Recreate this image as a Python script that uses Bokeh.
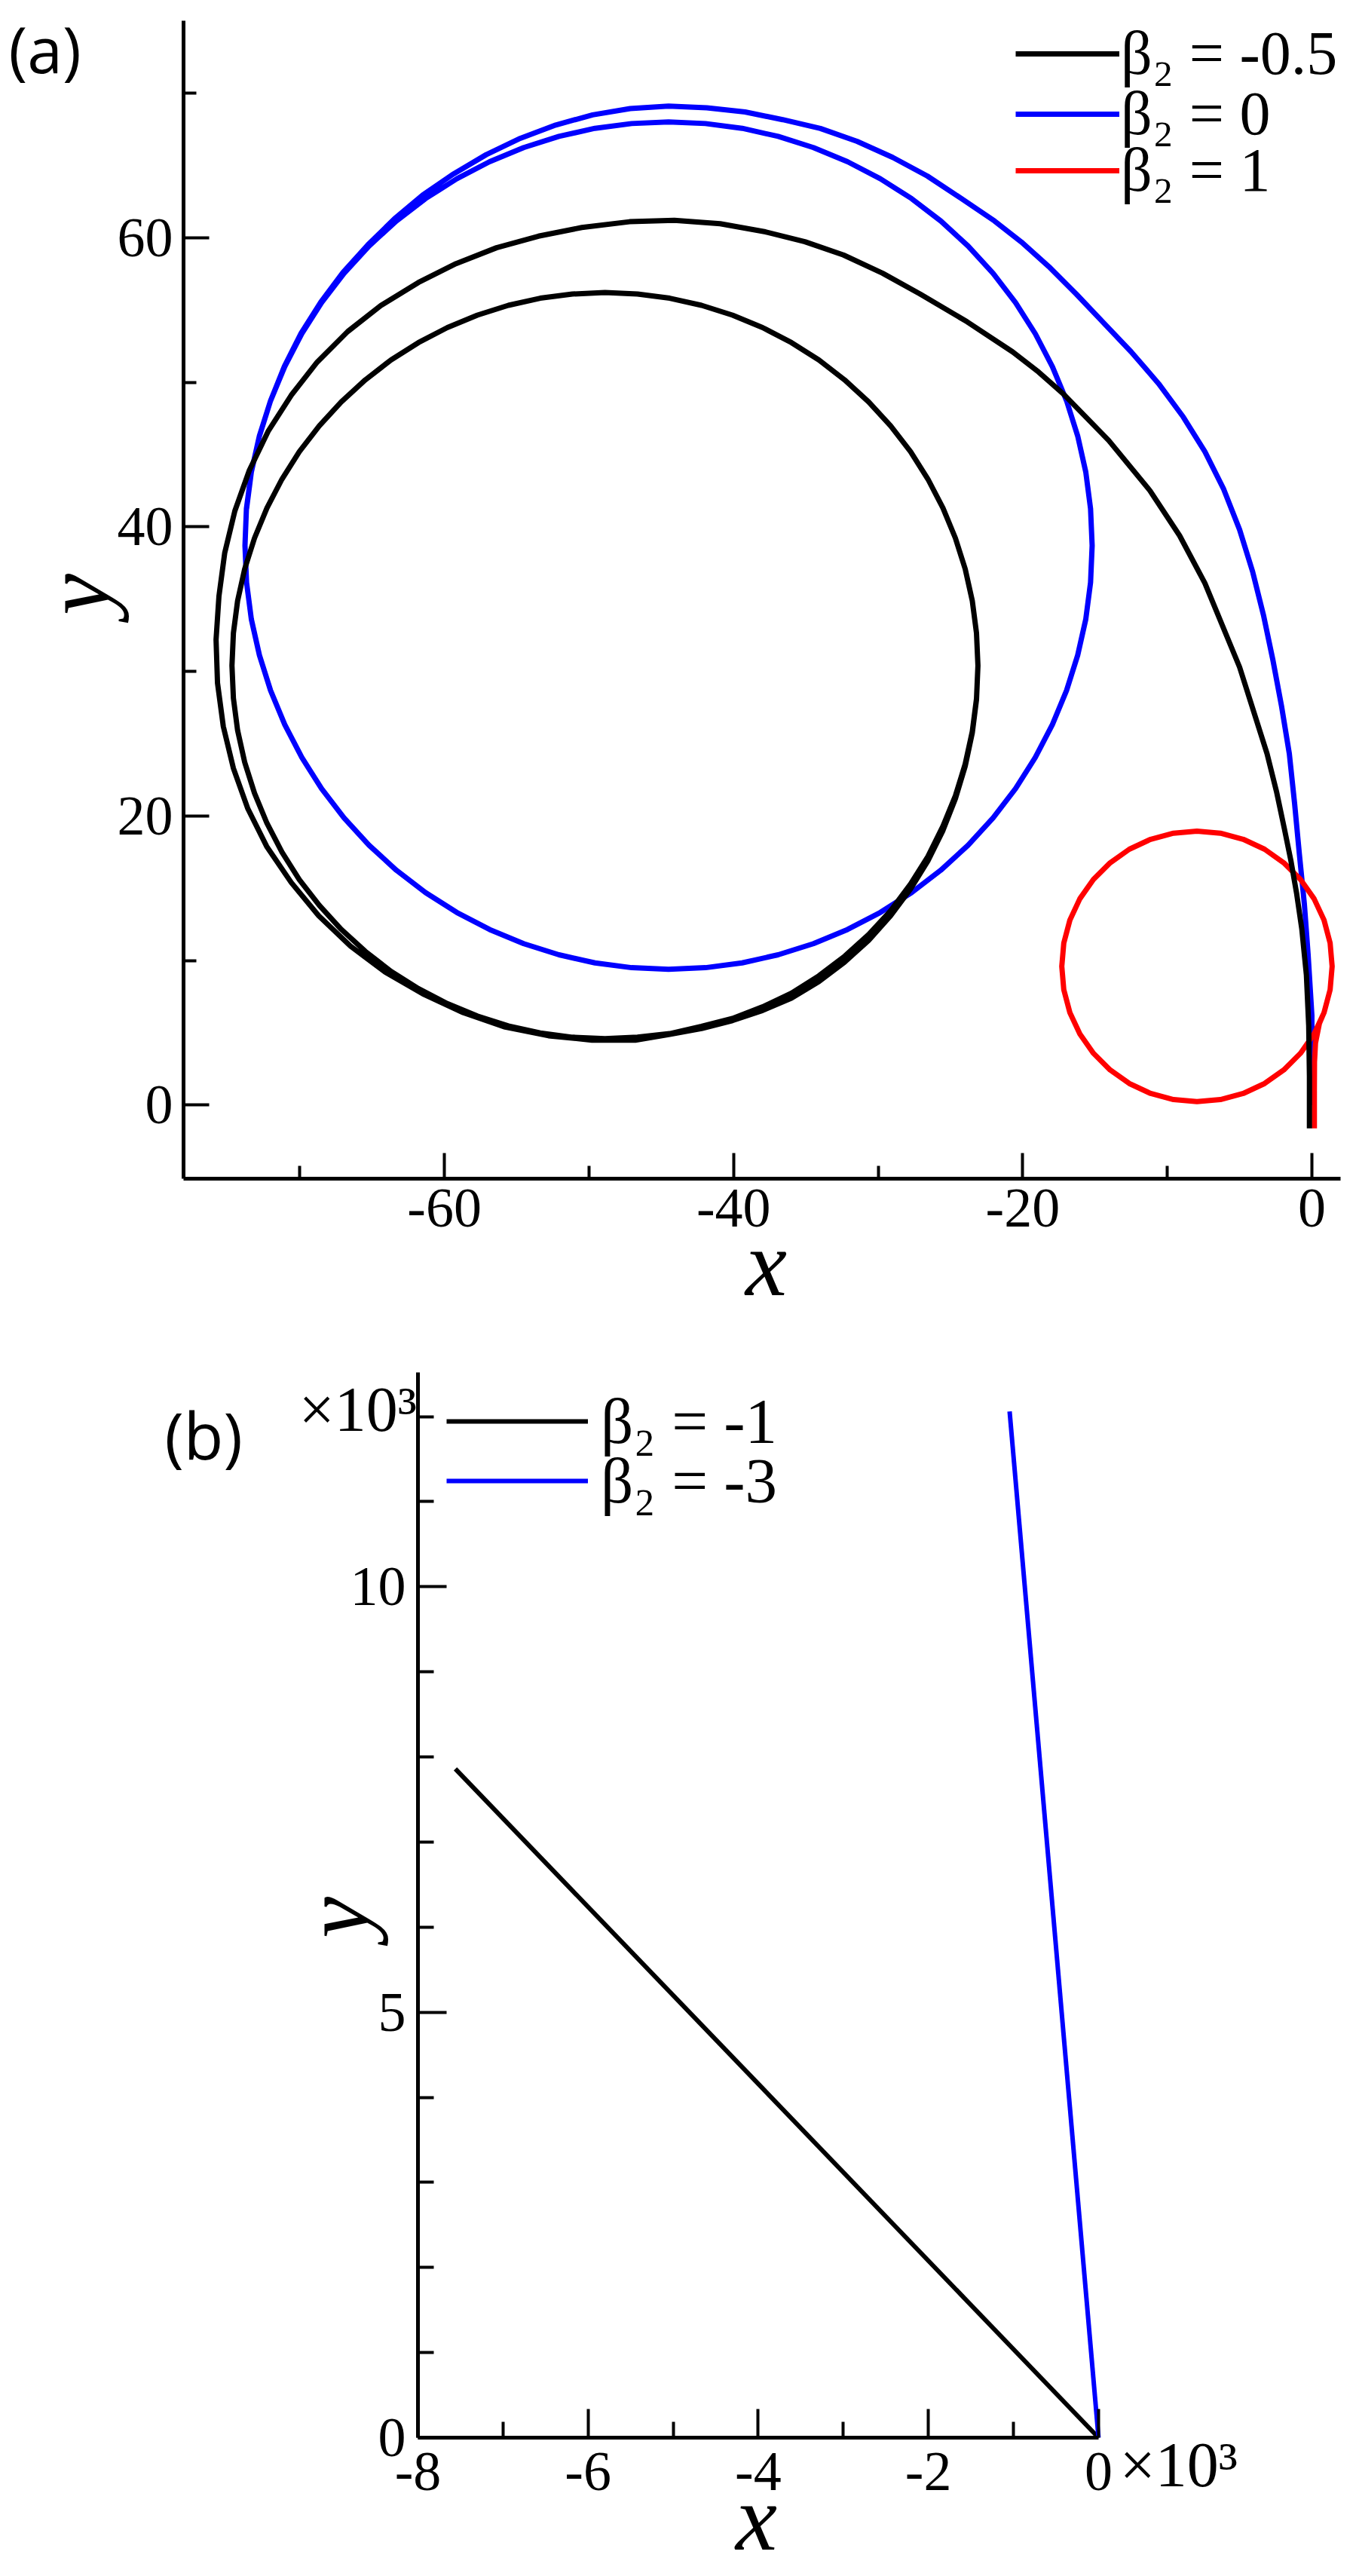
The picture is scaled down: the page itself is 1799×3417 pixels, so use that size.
import math
from bokeh.plotting import figure
from bokeh.models import Range1d, FixedTicker, Legend, LegendItem, Label, PrintfTickFormatter
from bokeh.embed import file_html
from bokeh.resources import INLINE

# ---------------- Panel (a) data ----------------
a_xticks = [-60, -40, -20, 0]
a_xminor = [-70, -50, -30, -10]
a_yticks = [0, 20, 40, 60]
a_yminor = [10, 30, 50, 70]

a_black_x = [-0.17, -0.17, -0.22, -0.38, -0.7, -1.05, -1.45, -1.9, -2.45, -3.1, -5.0, -7.4, -9.15,
             -11.2, -14.06, -17.2, -18.9, -20.7, -23.85, -27.1, -29.7, -32.4, -35.07, -37.8,
             -40.93, -44.1,
             -47.2, -50.5, -53.5, -56.4, -59.2, -61.8, -64.4, -66.7, -68.8, -70.6, -72.2, -73.5,
             -74.5, -75.2, -75.6, -75.8, -75.7, -75.3, -74.6, -73.6, -72.3, -70.6, -68.7, -66.5,
             -64.1, -61.5, -58.7, -55.8, -52.8, -49.8, -46.8,
             -44.42, -42.22, -40.08, -38.0, -36.0, -34.1, -32.32, -30.66, -29.14, -27.76, -26.56,
             -25.52, -24.66, -23.98, -23.49, -23.2, -23.1,
             -23.2, -23.49, -23.98, -24.66, -25.52, -26.56, -27.76, -29.14, -30.66, -32.32, -34.1,
             -36.0, -38.0, -40.08, -42.22, -44.42, -46.65, -48.9,
             -51.15, -53.38, -55.58, -57.72, -59.8, -61.8, -63.7, -65.48, -67.14, -68.66, -70.04,
             -71.24, -72.28, -73.14, -73.82, -74.31, -74.6, -74.7,
             -74.6, -74.31, -73.82, -73.14, -72.28, -71.24, -70.04, -68.66, -67.14, -65.48, -63.7,
             -61.8, -59.8, -57.72, -55.58, -53.38, -51.15, -48.9,
             -46.65, -44.42, -42.22, -40.08, -38.0, -36.0, -34.1, -32.32, -30.66, -29.14, -27.76,
             -26.56, -25.52, -24.66, -23.98, -23.49, -23.2, -23.1]
a_black_y = [-1.6, 2.0, 5.5, 9.0, 12.2, 14.6, 16.9, 19.1, 21.7, 24.3, 30.29, 36.1, 39.39,
             42.5, 45.98, 49.2, 50.7, 52.1, 54.18, 56.1, 57.54, 58.8, 59.72, 60.4,
             60.96, 61.2,
             61.1, 60.7, 60.1, 59.3, 58.2, 56.9, 55.3, 53.5, 51.4, 49.1, 46.6, 43.9,
             41.1, 38.2, 35.2, 32.2, 29.2, 26.2, 23.3, 20.5, 17.9, 15.4, 13.1, 11.0,
             9.2, 7.7, 6.4, 5.4, 4.8, 4.5, 4.5,
             4.9, 5.3, 5.85, 6.55, 7.4, 8.55, 9.9, 11.4, 13.1, 14.95, 16.9,
             19.0, 21.2, 23.45, 25.75, 28.05, 30.4,
             32.65, 34.88, 37.08, 39.22, 41.3, 43.3, 45.2, 46.98, 48.64, 50.16, 51.54,
             52.74, 53.78, 54.64, 55.32, 55.81, 56.1, 56.2,
             56.1, 55.81, 55.32, 54.64, 53.78, 52.74, 51.54, 50.16, 48.64, 46.98, 45.2,
             43.3, 41.3, 39.22, 37.08, 34.88, 32.65, 30.4,
             28.15, 25.92, 23.72, 21.58, 19.5, 17.5, 15.6, 13.82, 12.16, 10.64, 9.26,
             8.06, 7.02, 6.16, 5.48, 4.99, 4.7, 4.6,
             4.7, 4.95, 5.45, 6.0, 6.8, 7.75, 8.95, 10.3, 11.8, 13.45, 15.3,
             17.2, 19.3, 21.4, 23.6, 25.85, 28.1, 30.4]

a_blue_x = [0.0, 0.0, 0.0, -0.26, -0.52, -0.87, -1.2, -1.56, -2.1, -2.7, -3.35, -4.1, -5.0, -6.1,
            -7.4, -8.9, -10.6, -12.5, -14.5, -16.3, -18.2, -20.1, -21.95, -24.32, -26.6, -29.0,
            -31.46, -34.0, -36.61, -39.21, -41.85, -44.5, -47.15, -49.75, -52.3, -54.75, -57.11,
            -59.35, -61.5, -63.46, -65.3, -67.02, -68.55, -69.92, -71.07, -72.03, -72.8, -73.36,
            -73.7, -73.8,
            -73.69, -73.36, -72.8, -72.03, -71.05, -69.87, -68.5, -66.95, -65.22, -63.33, -61.31,
            -59.15, -56.88, -54.52, -52.08, -49.59, -47.05, -44.5,
            -41.95, -39.41, -36.92, -34.48, -32.12, -29.85, -27.69, -25.67, -23.78, -22.05, -20.5,
            -19.13, -17.95, -16.97, -16.2, -15.64, -15.31, -15.2,
            -15.31, -15.64, -16.2, -16.97, -17.95, -19.13, -20.5, -22.05, -23.78, -25.67, -27.69,
            -29.85, -32.12, -34.48, -36.92, -39.41, -41.95, -44.5,
            -47.05, -49.59, -52.08, -54.52, -56.88, -59.15, -61.31, -63.33, -65.22, -66.95, -68.5,
            -69.87, -71.05, -72.03, -72.8, -73.36, -73.69]
a_blue_y = [0.0, 3.0, 6.2, 10.4, 13.9, 17.4, 20.9, 24.3, 27.6, 30.8, 33.9, 36.9, 39.8, 42.6,
            45.2, 47.6, 49.9, 52.1, 54.2, 56.1, 58.0, 59.7, 61.15, 62.75, 64.26, 65.55,
            66.66, 67.55, 68.16, 68.69, 68.98, 69.1, 68.93, 68.49, 67.79, 66.87, 65.74,
            64.42, 62.95, 61.3, 59.5, 57.6, 55.55, 53.38, 51.1, 48.72, 46.3, 43.79,
            41.25, 38.7,
            36.15, 33.61, 31.12, 28.68, 26.32, 24.05, 21.89, 19.87, 17.98, 16.25, 14.7,
            13.33, 12.15, 11.17, 10.4, 9.84, 9.51, 9.4,
            9.51, 9.84, 10.4, 11.17, 12.15, 13.33, 14.7, 16.25, 17.98, 19.87, 21.89,
            24.05, 26.32, 28.68, 31.12, 33.61, 36.15, 38.7,
            41.25, 43.79, 46.28, 48.72, 51.08, 53.35, 55.51, 57.53, 59.42, 61.15, 62.7,
            64.07, 65.25, 66.23, 67.0, 67.56, 67.89, 68.0,
            67.89, 67.56, 67.0, 66.23, 65.25, 64.07, 62.7, 61.15, 59.42, 57.53, 55.51,
            53.35, 51.08, 48.72, 46.28, 43.79, 41.25]

a_red_x = [0.17, 0.17, 0.18, 0.25, 0.52, 0.84, 1.26, 1.4, 1.26, 0.84, 0.15, -0.79, -1.94, -3.27,
           -4.75, -6.33, -7.95, -9.57, -11.15, -12.63, -13.96, -15.11, -16.05, -16.74, -17.16,
           -17.3, -17.16, -16.74, -16.05, -15.11, -13.96, -12.63, -11.15, -9.57, -7.95, -6.33,
           -4.75, -3.27, -1.94, -0.79, 0.15, 0.84, 1.26]
a_red_y = [-1.6, 1.0, 3.0, 4.3, 5.65, 6.4, 7.98, 9.6, 11.22, 12.8, 14.28, 15.61, 16.76, 17.7,
           18.39, 18.81, 18.95, 18.81, 18.39, 17.7, 16.76, 15.61, 14.28, 12.8, 11.22,
           9.6, 7.98, 6.4, 4.93, 3.59, 2.44, 1.5, 0.81, 0.39, 0.25, 0.39,
           0.81, 1.5, 2.44, 3.59, 4.93, 6.4, 7.98]

a_labels = ["\u03b2\u2082 = -0.5", "\u03b2\u2082 = 0", "\u03b2\u2082 = 1"]

# ---------------- Panel (b) data (x, y in units of 10^3) ----------------
b_xticks = [-8, -6, -4, -2, 0]
b_xminor = [-7, -5, -3, -1]
b_yticks = [0, 5, 10]
b_yminor = [1, 2, 3, 4, 6, 7, 8, 9, 11, 12]

b_black_x = [0.0, -7.56]
b_black_y = [0.0, 7.86]
b_blue_x = [0.0, -1.045]
b_blue_y = [0.0, 12.06]

b_labels = ["\u03b2\u2082 = -1", "\u03b2\u2082 = -3"]

SERIF = "Liberation Serif"


def make_panel(width, height, xr, yr, xbounds, ybounds, xt, xm, yt, ym,
               tick_in, minor_in, xstand, ystand):
    p = figure(width=width, height=height, output_backend="svg", toolbar_location=None,
               x_range=Range1d(*xr), y_range=Range1d(*yr))
    p.min_border = 0
    p.min_border_left = 0
    p.min_border_right = 0
    p.min_border_top = 0
    p.min_border_bottom = 0
    p.xaxis.fixed_location = ybounds[0]
    p.yaxis.fixed_location = xbounds[0]
    p.xaxis.bounds = xbounds
    p.yaxis.bounds = ybounds
    p.xaxis.ticker = FixedTicker(ticks=xt, minor_ticks=xm)
    p.yaxis.ticker = FixedTicker(ticks=yt, minor_ticks=ym)
    for ax in (p.xaxis, p.yaxis):
        ax.formatter = PrintfTickFormatter(format="%d")
        ax.axis_line_width = 5
        ax.axis_line_color = "black"
        ax.major_tick_line_width = 4
        ax.minor_tick_line_width = 4
        ax.major_tick_line_color = "black"
        ax.minor_tick_line_color = "black"
        ax.major_tick_in = tick_in
        ax.major_tick_out = 0
        ax.minor_tick_in = minor_in
        ax.minor_tick_out = 0
        ax.major_label_text_font = SERIF
        ax.major_label_text_font_size = "74px"
        ax.major_label_text_color = "black"
    p.xaxis.major_label_standoff = xstand
    p.yaxis.major_label_standoff = ystand
    p.xgrid.visible = False
    p.ygrid.visible = False
    p.outline_line_color = None
    p.background_fill_color = "white"
    p.border_fill_color = "white"
    return p


def legend_entry(p, label, renderer, loc, gw, stand, size):
    p.add_layout(Legend(items=[LegendItem(label=label, renderers=[renderer])], location=loc,
                        glyph_width=gw, glyph_height=110, label_height=110,
                        spacing=0, padding=0, margin=0, label_standoff=stand,
                        border_line_color=None, background_fill_alpha=0,
                        label_text_font=SERIF, label_text_font_size=size,
                        label_text_color="black"))


def note(p, x, y, text, font, size, align="left", angle=0.0, style="normal"):
    p.add_layout(Label(x=x, y=y, text=text, text_font=font, text_font_size=size,
                       text_font_style=style, text_align=align, text_baseline="alphabetic",
                       angle=angle, text_color="black"))


# ---------------- Figure (a): frame covers the whole canvas ----------------
pa = make_panel(1799, 1798, (-90.719, 3.077), (-17.336, 76.408), (-78.05, 2.0), (-5.1, 75.0),
                a_xticks, a_xminor, a_yticks, a_yminor, 34, 17, 14, 14)

ra_blue = pa.line(a_blue_x, a_blue_y, line_color="#0000FF", line_width=7, line_join="round")
ra_red = pa.line(a_red_x, a_red_y, line_color="#FF0000", line_width=7, line_join="round")
ra_black = pa.line(a_black_x, a_black_y, line_color="black", line_width=7, line_join="round")

legend_entry(pa, a_labels[0], ra_black, (1347, 1672), 138, 2, "82px")
legend_entry(pa, a_labels[1], ra_blue, (1347, 1592), 138, 2, "82px")
legend_entry(pa, a_labels[2], ra_red, (1347, 1517), 138, 2, "82px")

note(pa, -90.146, 73.07, "(a)", "Open Sans", "84px")
note(pa, -37.747, -10.975, "x", SERIF, "124px", align="center", style="italic")
note(pa, -85.40, 35.324, "y", SERIF, "124px", align="center", angle=math.pi / 2, style="italic")

# ---------------- Figure (b): frame covers the whole canvas ----------------
pb = make_panel(1799, 1619, (-12.908, 3.031), (-1.630, 12.714), (-8.0, 0.0), (0.0, 12.52),
                b_xticks, b_xminor, b_yticks, b_yminor, 38, 21, 20, 16)

rb_black = pb.line(b_black_x, b_black_y, line_color="black", line_width=6)
rb_blue = pb.line(b_blue_x, b_blue_y, line_color="#0000FF", line_width=6)

legend_entry(pb, b_labels[0], rb_black, (592, 1477), 188, 17, "85px")
legend_entry(pb, b_labels[1], rb_blue, (592, 1398), 188, 17, "85px")

note(pb, -10.977, 11.793, "(b)", "Open Sans", "86px")
note(pb, -9.400, 12.085, "\u00d710\u00b3", SERIF, "84px")
note(pb, 0.249, -0.319, "\u00d710\u00b3", SERIF, "84px")
note(pb, -4.022, -0.948, "x", SERIF, "124px", align="center", style="italic")
note(pb, -8.957, 6.113, "y", SERIF, "124px", align="center", angle=math.pi / 2, style="italic")

open("out.html", "w").write(file_html([pa, pb], INLINE))
